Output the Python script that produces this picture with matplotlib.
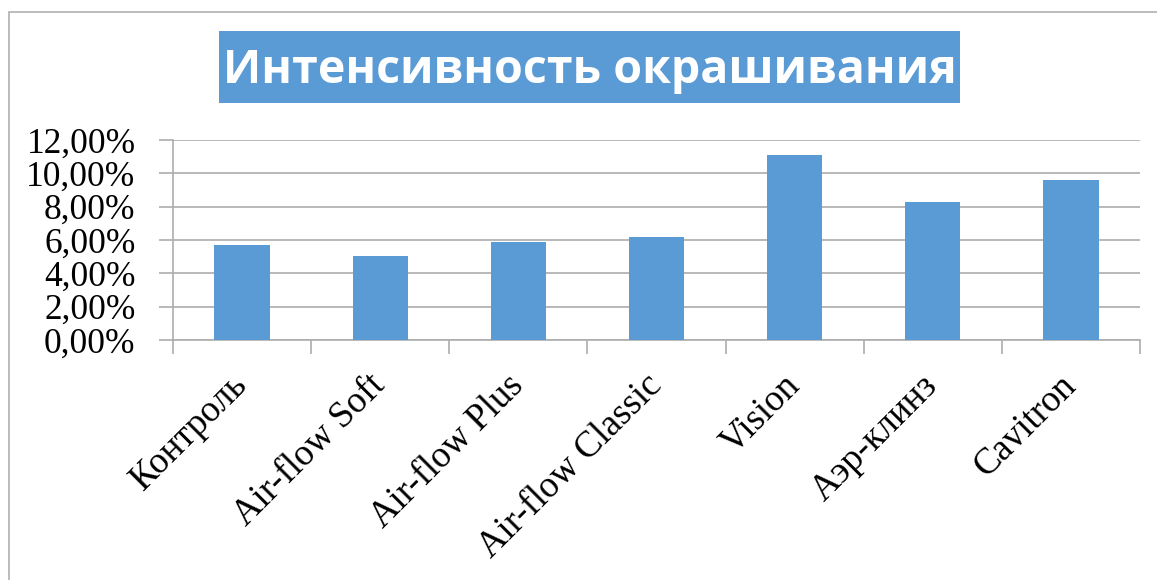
import matplotlib.pyplot as plt
from matplotlib.patches import Rectangle
from matplotlib.ticker import FuncFormatter

# =========================
# DATA
# =========================

categories = ["Контроль", "Air-flow Soft", "Air-flow Plus", "Air-flow Classic",
              "Vision", "Аэр-клинз", "Cavitron"]
values = [5.70, 5.06, 5.88, 6.18, 11.10, 8.28, 9.60]
y_ticks = [0, 2, 4, 6, 8, 10, 12]
title = "Интенсивность окрашивания"

BAR = "#5B9BD5"
GRID = "#ADADAD"

# =========================
# FIGURE
# =========================

W, H = 1157, 580
fig = plt.figure(figsize=(W / 100, H / 100), dpi=100)

# outer chart border (runs off right/bottom edge)
fig.patches.append(Rectangle((9 / W, -0.1), 1.2, 1 - 12 / H + 0.1,
                             transform=fig.transFigure, fill=False,
                             edgecolor="#B0B0B0", linewidth=1.2))

ax = fig.add_axes([173 / W, 1 - 340 / H, (1140 - 173) / W, 200 / H])

x = range(len(categories))
ax.bar(x, values, width=0.4, color=BAR, zorder=3)

ax.set_xlim(-0.5, len(categories) - 0.5)
ax.set_ylim(0, 12)
ax.set_yticks(y_ticks)
ax.yaxis.set_major_formatter(FuncFormatter(lambda v, p: f"{v:.2f}%".replace(".", ",")))
ax.grid(axis="y", color=GRID, linewidth=1.2, zorder=0)

for s in ["top", "right"]:
    ax.spines[s].set_visible(False)
for s in ["left", "bottom"]:
    ax.spines[s].set_color(GRID)
    ax.spines[s].set_linewidth(1.2)

ax.tick_params(axis="y", length=10, width=1.2, color=GRID, pad=17,
               labelsize=25.5)
for lab in ax.get_yticklabels():
    lab.set_family("Liberation Serif")

# category labels at centres, tick marks at boundaries
ax.set_xticks(list(x))
ax.set_xticklabels(categories, rotation=45, ha="right", va="center",
                   rotation_mode="anchor", family="Liberation Serif",
                   fontsize=26.5)
ax.tick_params(axis="x", which="major", length=0, pad=29)
ax.set_xticks([i - 0.5 for i in range(len(categories) + 1)], minor=True)
ax.tick_params(axis="x", which="minor", length=10, width=1.2, color=GRID)

# title box
fig.patches.append(Rectangle((219 / W, 1 - 103 / H), (960 - 219) / W, 72 / H,
                             transform=fig.transFigure, facecolor=BAR,
                             edgecolor="none"))
fig.text(589.5 / W, 1 - 71 / H, title, ha="center", va="center",
         color="white", fontsize=33.5, fontweight="bold", family="Open Sans")

fig.savefig("out.png", dpi=100)
